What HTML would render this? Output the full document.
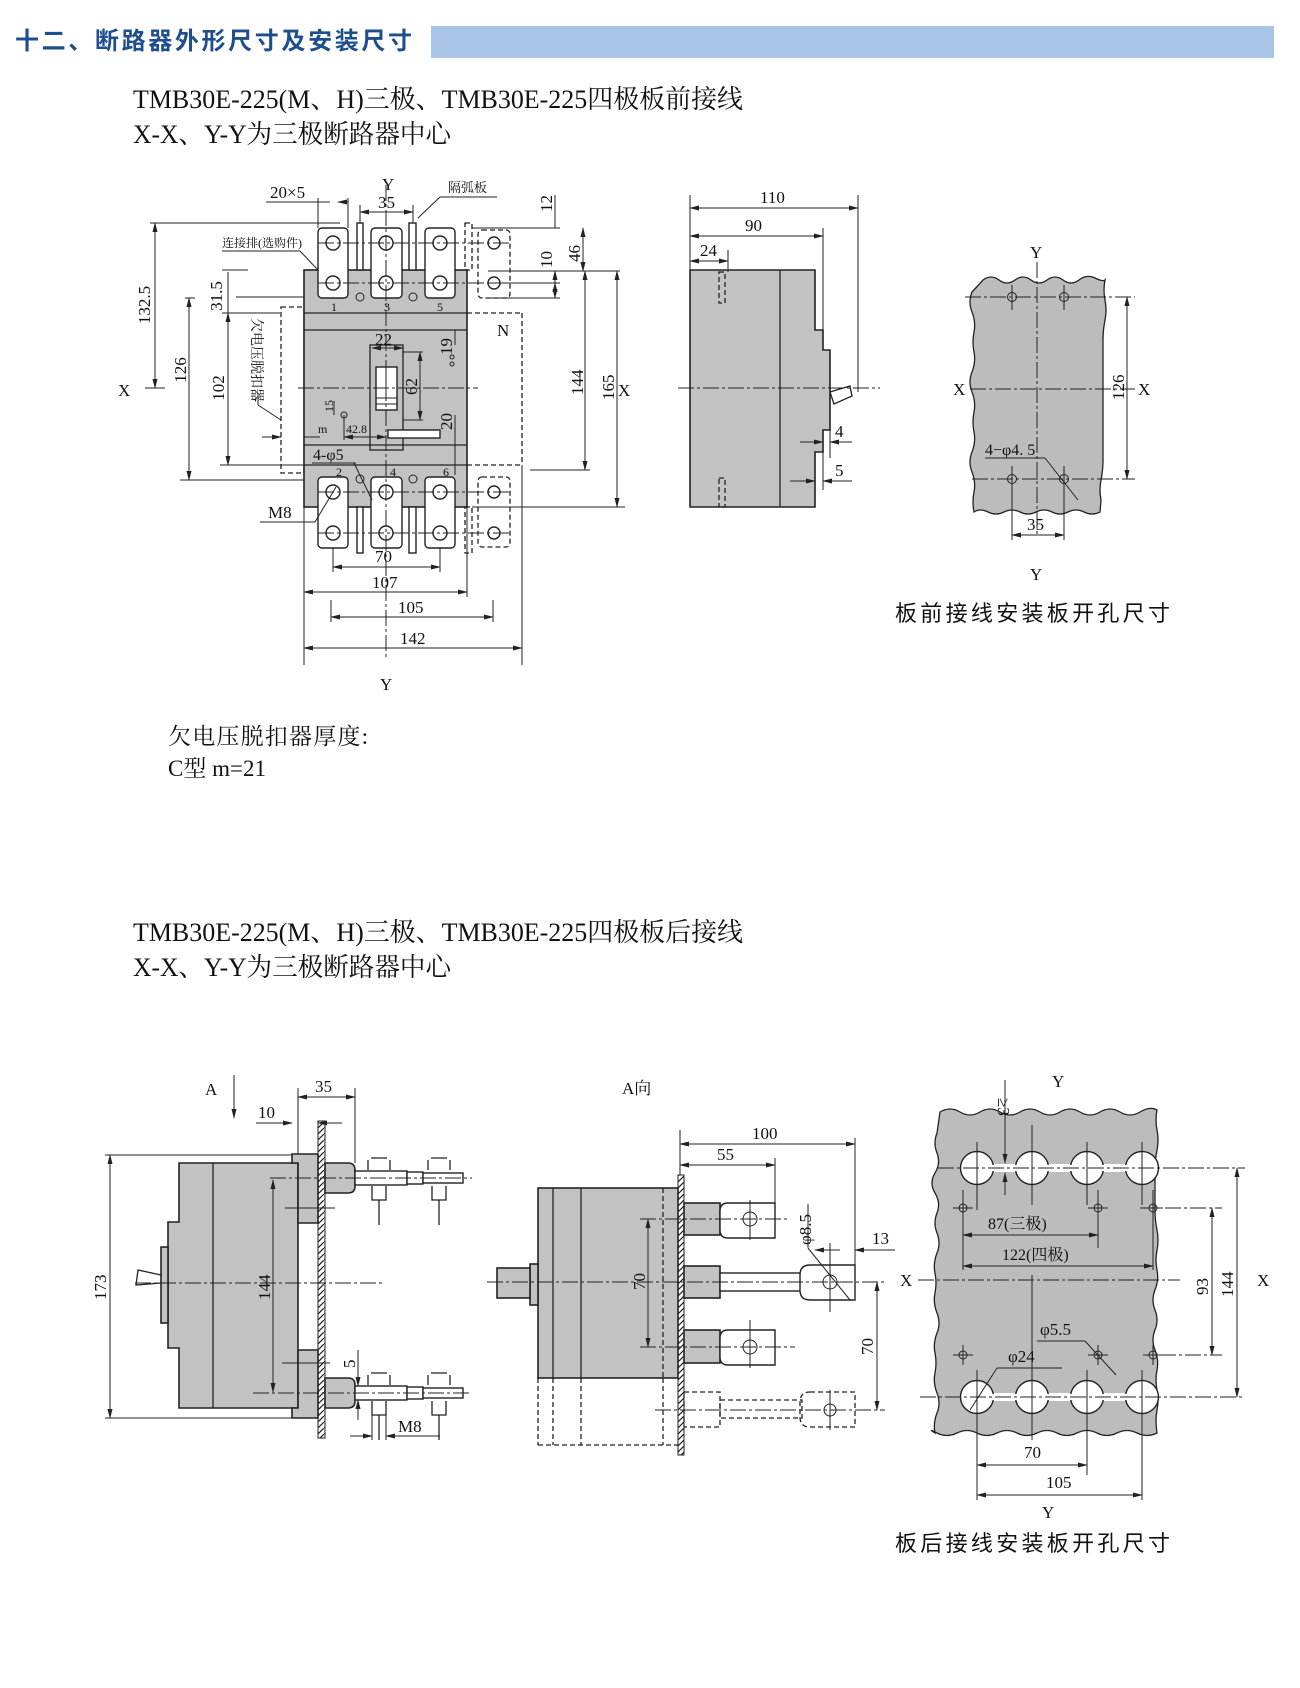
<!DOCTYPE html>
<html><head><meta charset="utf-8"><style>
html,body{margin:0;padding:0;background:#fff;}
svg{display:block;}
.l{stroke:#222;stroke-width:1.3;fill:none}
.t{stroke:#222;stroke-width:1;fill:none}
.g{fill:#c2c2c2;stroke:#222;stroke-width:1.6}
.w{fill:#fff;stroke:#222;stroke-width:1.4}
.d{stroke:#222;stroke-width:1.3;fill:none;stroke-dasharray:5 3}
.c{stroke:#222;stroke-width:1;fill:none;stroke-dasharray:16 3 3 3}
.dim{stroke:#222;stroke-width:1;fill:none;marker-start:url(#a);marker-end:url(#a)}
text{font-family:"Liberation Serif","Noto Serif CJK SC",serif;fill:#111}
.n{font-size:17px}
.s{font-size:12px}
</style></head><body>
<svg width="1300" height="1688" viewBox="0 0 1300 1688" xmlns="http://www.w3.org/2000/svg">
<defs>
<marker id="a" markerWidth="10" markerHeight="6" refX="9" refY="3" orient="auto-start-reverse" markerUnits="userSpaceOnUse"><path d="M0,0.5 L10,3 L0,5.5 z" fill="#222"/></marker>
<pattern id="h" width="6" height="6" patternUnits="userSpaceOnUse"><path d="M0,6 L6,0" stroke="#222" stroke-width="1.2"/></pattern>
</defs>

<!-- header -->
<text x="15" y="49" style="font-family:'Liberation Sans','Noto Sans CJK SC',sans-serif;font-weight:bold;font-size:24px;fill:#1d4f8f" textLength="397">十二、断路器外形尺寸及安装尺寸</text>
<rect x="431" y="26" width="843" height="32" fill="#a8c5e8"/>

<text x="133" y="108" font-size="26" textLength="610" lengthAdjust="spacingAndGlyphs">TMB30E-225(M、H)三极、TMB30E-225四极板前接线</text>
<text x="133" y="143" font-size="26" textLength="318" lengthAdjust="spacingAndGlyphs">X-X、Y-Y为三极断路器中心</text>

<!-- ============ FRONT VIEW ============ -->
<line class="d" x1="467" y1="313" x2="522" y2="313"/><line class="d" x1="522" y1="313" x2="522" y2="465"/><line class="d" x1="467" y1="465" x2="522" y2="465"/>
<rect class="d" x="281" y="307" width="23" height="166"/>
<rect class="g" x="304" y="270" width="163" height="237"/>
<line class="l" x1="304" y1="313" x2="467" y2="313"/><line class="l" x1="304" y1="330" x2="467" y2="330"/>
<line class="l" x1="304" y1="445" x2="467" y2="445"/><line class="l" x1="304" y1="465" x2="467" y2="465"/>
<rect class="l" x="370" y="345" width="33" height="105" fill="#c9c9c9"/>
<rect class="w" x="376" y="367" width="21" height="43"/>
<line class="t" x1="376" y1="398" x2="397" y2="398"/><line class="t" x1="376" y1="404" x2="397" y2="404"/><line class="t" x1="386" y1="367" x2="386" y2="398"/>
<rect class="w" x="388" y="430" width="52" height="8"/>
<g>
<rect class="w" x="318" y="228" width="30" height="70" rx="4"/>
<rect class="w" x="371" y="228" width="31" height="70" rx="4"/>
<rect class="w" x="425" y="228" width="30" height="70" rx="4"/>
<rect class="d" x="478" y="230" width="32" height="68" rx="4"/>
<rect class="w" x="357" y="223" width="6" height="47"/>
<rect class="w" x="409" y="223" width="7" height="47"/>
<rect class="d" x="465" y="223" width="7" height="47"/>
<g class="w"><circle cx="333" cy="243" r="7"/><circle cx="333" cy="283" r="7"/><circle cx="386" cy="243" r="7"/><circle cx="386" cy="283" r="7"/><circle cx="440" cy="243" r="7"/><circle cx="440" cy="283" r="7"/><circle cx="494" cy="243" r="6"/><circle cx="494" cy="283" r="6"/></g>
<rect class="w" x="318" y="477" width="30" height="71" rx="4"/>
<rect class="w" x="371" y="477" width="31" height="71" rx="4"/>
<rect class="w" x="425" y="477" width="30" height="71" rx="4"/>
<rect class="d" x="478" y="477" width="32" height="70" rx="4"/>
<rect class="w" x="357" y="507" width="6" height="46"/>
<rect class="w" x="409" y="507" width="7" height="46"/>
<rect class="d" x="465" y="507" width="7" height="46"/>
<g class="w"><circle cx="333" cy="492" r="7"/><circle cx="333" cy="533" r="7"/><circle cx="386" cy="492" r="7"/><circle cx="386" cy="533" r="7"/><circle cx="440" cy="492" r="7"/><circle cx="440" cy="533" r="7"/><circle cx="494" cy="492" r="6"/><circle cx="494" cy="533" r="6"/></g>
<g class="t"><circle cx="360" cy="297" r="4"/><circle cx="413" cy="297" r="4"/><circle cx="360" cy="479" r="4"/><circle cx="413" cy="479" r="4"/><circle cx="344" cy="415" r="3"/><circle cx="452" cy="357" r="2"/><circle cx="452" cy="364" r="2"/></g>
<g class="s"><text x="331" y="311">1</text><text x="384" y="311">3</text><text x="437" y="311">5</text><text x="336" y="476">2</text><text x="390" y="476">4</text><text x="443" y="476">6</text></g>
</g>
<line class="c" x1="386" y1="185" x2="386" y2="660"/>
<line class="c" x1="298" y1="388" x2="478" y2="388"/>
<line class="c" x1="318" y1="243" x2="510" y2="243"/><line class="c" x1="318" y1="283" x2="510" y2="283"/>
<line class="c" x1="318" y1="492" x2="510" y2="492"/><line class="c" x1="318" y1="533" x2="510" y2="533"/>
<line class="t" x1="150" y1="223" x2="340" y2="223"/>
<line class="dim" x1="155" y1="223" x2="155" y2="388"/><line class="t" x1="145" y1="388" x2="165" y2="388"/>
<text class="n" transform="translate(150,305) rotate(-90)" text-anchor="middle">132.5</text>
<line class="t" x1="185" y1="298" x2="195" y2="298"/><line class="t" x1="180" y1="480" x2="304" y2="480"/>
<line class="dim" x1="189" y1="298" x2="189" y2="480"/>
<text class="n" transform="translate(186,370) rotate(-90)" text-anchor="middle">126</text>
<line class="t" x1="222" y1="270" x2="248" y2="270"/><line class="t" x1="222" y1="313" x2="280" y2="313"/><line class="t" x1="220" y1="465" x2="304" y2="465"/>
<line class="dim" x1="228" y1="313" x2="228" y2="465"/><line class="t" x1="228" y1="272" x2="228" y2="313"/>
<text class="n" transform="translate(224,388) rotate(-90)" text-anchor="middle">102</text>
<text class="n" transform="translate(222,296) rotate(-90)" text-anchor="middle">31.5</text>
<line class="t" x1="236" y1="297" x2="304" y2="297"/>
<text font-size="14" transform="translate(252,318) rotate(90)">欠电压脱扣器</text>
<line class="t" x1="258" y1="395" x2="258" y2="405"/><line class="t" x1="258" y1="405" x2="281" y2="420"/>
<text class="n" x="118" y="396">X</text>
<line class="t" x1="262" y1="437" x2="281" y2="437" marker-end="url(#a)"/><line class="t" x1="304" y1="437" x2="320" y2="437"/>
<text class="s" x="318" y="433">m</text>
<line class="dim" x1="344" y1="437" x2="386" y2="437"/><text class="s" x="346" y="433">42.8</text>
<line class="t" x1="344" y1="415" x2="344" y2="440"/>
<line class="t" x1="334" y1="401" x2="334" y2="415"/><text class="s" transform="translate(333,412) rotate(-90)">15</text>
<text x="313" y="460" font-size="16">4-φ5</text><line class="t" x1="312" y1="463" x2="356" y2="463"/><line class="t" x1="354" y1="463" x2="372" y2="500"/>
<text class="n" x="268" y="518">M8</text><line class="t" x1="260" y1="522" x2="315" y2="522"/><line class="t" x1="315" y1="522" x2="336" y2="487"/>
<text class="n" x="270" y="198">20×5</text><line class="t" x1="266" y1="202" x2="318" y2="202"/>
<line class="t" x1="318" y1="198" x2="318" y2="228"/><line class="t" x1="348" y1="198" x2="348" y2="228"/>
<line class="t" x1="318" y1="202" x2="330" y2="202"/><line class="t" x1="348" y1="202" x2="338" y2="202" marker-end="url(#a)"/>
<text class="n" x="382" y="190">Y</text>
<line class="dim" x1="360" y1="212" x2="413" y2="212"/><text class="n" x="378" y="208">35</text>
<line class="t" x1="360" y1="205" x2="360" y2="223"/><line class="t" x1="413" y1="205" x2="413" y2="223"/>
<text font-size="13" x="448" y="192">隔弧板</text><line class="t" x1="440" y1="197" x2="497" y2="197"/><line class="t" x1="440" y1="197" x2="418" y2="218"/>
<text font-size="12" x="222" y="247">连接排(选购件)</text><line class="t" x1="222" y1="251" x2="300" y2="251"/><line class="t" x1="300" y1="251" x2="318" y2="270"/>
<text class="n" x="497" y="336">N</text>
<line class="dim" x1="372" y1="348" x2="403" y2="348"/><text class="n" x="375" y="345">22</text>
<line class="t" x1="403" y1="352" x2="423" y2="352"/><line class="t" x1="403" y1="420" x2="423" y2="420"/>
<line class="dim" x1="420" y1="352" x2="420" y2="420"/><text class="n" transform="translate(417,395) rotate(-90)">62</text>
<line class="t" x1="455" y1="330" x2="455" y2="345"/><text class="n" transform="translate(452,355) rotate(-90)">19</text>
<line class="t" x1="455" y1="415" x2="455" y2="475"/><text class="n" transform="translate(452,430) rotate(-90)">20</text>
<line class="t" x1="472" y1="228" x2="560" y2="228"/><line class="t" x1="488" y1="271" x2="620" y2="271"/>
<line class="t" x1="488" y1="283" x2="560" y2="283"/><line class="t" x1="488" y1="298" x2="560" y2="298"/>
<line class="t" x1="530" y1="470" x2="590" y2="470"/><line class="t" x1="472" y1="507" x2="625" y2="507"/>
<line class="t" x1="555" y1="195" x2="555" y2="228"/><line class="t" x1="555" y1="271" x2="555" y2="283" marker-start="url(#a)"/>
<text class="n" transform="translate(552,212) rotate(-90)">12</text>
<line class="dim" x1="555" y1="283" x2="555" y2="298"/><text class="n" transform="translate(552,268) rotate(-90)">10</text>
<line class="dim" x1="583" y1="228" x2="583" y2="271"/><text class="n" transform="translate(580,262) rotate(-90)">46</text>
<line class="dim" x1="585" y1="271" x2="585" y2="470"/><text class="n" transform="translate(583,395) rotate(-90)">144</text>
<line class="dim" x1="617" y1="271" x2="617" y2="507"/><text class="n" transform="translate(614,400) rotate(-90)">165</text>
<text class="n" x="618" y="396">X</text>
<line class="t" x1="333" y1="548" x2="333" y2="572"/><line class="t" x1="440" y1="548" x2="440" y2="572"/>
<line class="dim" x1="333" y1="567" x2="440" y2="567"/><text class="n" x="375" y="562">70</text>
<line class="t" x1="304" y1="507" x2="304" y2="665"/><line class="t" x1="467" y1="507" x2="467" y2="597"/>
<line class="dim" x1="304" y1="592" x2="467" y2="592"/><text class="n" x="372" y="588">107</text>
<line class="t" x1="331" y1="600" x2="331" y2="622"/><line class="t" x1="493" y1="600" x2="493" y2="622"/>
<line class="dim" x1="331" y1="617" x2="493" y2="617"/><text class="n" x="398" y="613">105</text>
<line class="t" x1="522" y1="465" x2="522" y2="665"/>
<line class="dim" x1="304" y1="648" x2="522" y2="648"/><text class="n" x="400" y="644">142</text>
<text class="n" x="380" y="690">Y</text>

<!-- ============ SIDE VIEW ============ -->
<path class="g" d="M690,270 H815 V330 H823 V350 H830 V430 H823 V452 H815 V507 H690 Z"/>
<line class="l" x1="780" y1="270" x2="780" y2="507"/>
<rect class="d" x="719" y="272" width="6" height="31"/><rect class="d" x="719" y="478" width="6" height="29"/>
<path class="l" d="M830,392 L850,386 L852,396 L834,404 Z" fill="#fff"/>
<line class="c" x1="678" y1="388" x2="880" y2="388"/>
<line class="t" x1="690" y1="195" x2="690" y2="270"/><line class="t" x1="858" y1="195" x2="858" y2="392"/>
<line class="dim" x1="690" y1="208" x2="858" y2="208"/><text class="n" x="760" y="203">110</text>
<line class="t" x1="823" y1="228" x2="823" y2="330"/>
<line class="dim" x1="690" y1="236" x2="823" y2="236"/><text class="n" x="745" y="231">90</text>
<line class="t" x1="728" y1="250" x2="728" y2="272"/>
<line class="dim" x1="690" y1="261" x2="728" y2="261"/><text class="n" x="700" y="256">24</text>
<line class="t" x1="800" y1="442" x2="823" y2="442" marker-end="url(#a)"/><line class="t" x1="830" y1="442" x2="852" y2="442" marker-start="url(#a)"/>
<line class="t" x1="830" y1="430" x2="830" y2="458"/><text class="n" x="835" y="437">4</text>
<line class="t" x1="790" y1="481" x2="815" y2="481" marker-end="url(#a)"/><line class="t" x1="823" y1="481" x2="852" y2="481" marker-start="url(#a)"/>
<line class="t" x1="823" y1="452" x2="823" y2="490"/><text class="n" x="835" y="476">5</text>

<!-- ============ PLATE 1 ============ -->
<path d="M983,280 q8,-6 16,0 t16,0 t16,0 t16,0 t16,0 t16,0 t16,-2 t10,2 q-2,10 0,20 t0,20 t-2,20 t0,20 t0,20 t0,20 t0,20 t0,20 t0,20 t-2,20 t0,20 l-1,12 q-8,4 -16,0 t-16,0 t-16,0 t-16,0 t-16,0 t-16,0 t-16,0 t-14,0 q-2,-10 0,-20 t-2,-20 t0,-20 t2,-20 t0,-20 t-2,-20 t0,-20 t2,-20 t0,-20 t-2,-20 t0,-20 z" fill="#bcbcbc" stroke="#222" stroke-width="1.3"/>
<g class="t"><circle cx="1012" cy="297" r="4.5" fill="#bcbcbc"/><circle cx="1064" cy="297" r="4.5" fill="#bcbcbc"/><circle cx="1012" cy="479" r="4.5" fill="#bcbcbc"/><circle cx="1064" cy="479" r="4.5" fill="#bcbcbc"/></g>
<line class="c" x1="965" y1="297" x2="1135" y2="297"/><line class="c" x1="972" y1="479" x2="1135" y2="479"/>
<line class="t" x1="1012" y1="285" x2="1012" y2="310"/><line class="t" x1="1064" y1="285" x2="1064" y2="310"/>
<line class="t" x1="1012" y1="466" x2="1012" y2="540"/><line class="t" x1="1064" y1="466" x2="1064" y2="540"/>
<line class="c" x1="1037" y1="262" x2="1037" y2="535"/>
<line class="c" x1="970" y1="389" x2="1135" y2="389"/>
<text class="n" x="1030" y="258">Y</text><text class="n" x="1030" y="580">Y</text>
<text class="n" x="953" y="395">X</text><text class="n" x="1138" y="395">X</text>
<line class="dim" x1="1127" y1="297" x2="1127" y2="479"/><text class="n" transform="translate(1124,400) rotate(-90)">126</text>
<text x="985" y="455" font-size="16">4−φ4. 5</text>
<line class="t" x1="985" y1="458" x2="1045" y2="458"/><line class="t" x1="1045" y1="458" x2="1078" y2="500"/>
<line class="dim" x1="1012" y1="535" x2="1064" y2="535"/><text class="n" x="1027" y="530">35</text>
<text x="895" y="621" style="font-family:'Liberation Sans','Noto Sans CJK SC',sans-serif;font-size:22px" textLength="275">板前接线安装板开孔尺寸</text>

<text x="168" y="744" font-size="23" textLength="200">欠电压脱扣器厚度:</text>
<text x="168" y="776" font-size="23">C型 m=21</text>

<!-- ============ SECTION 2 ============ -->
<text x="133" y="941" font-size="26" textLength="610" lengthAdjust="spacingAndGlyphs">TMB30E-225(M、H)三极、TMB30E-225四极板后接线</text>
<text x="133" y="976" font-size="26" textLength="318" lengthAdjust="spacingAndGlyphs">X-X、Y-Y为三极断路器中心</text>

<path class="g" d="M179,1163 H298 V1408 H179 V1348 H168 V1222 H179 Z"/>
<rect class="g" x="161" y="1247" width="7" height="76"/>
<path class="l" d="M161,1275 L138,1270 L136,1285 L161,1283" fill="#fff"/>
<line class="l" x1="213" y1="1163" x2="213" y2="1408"/>
<path class="g" d="M292,1154 H318 V1223 H298 V1163 H292 Z"/>
<path class="g" d="M298,1350 H318 V1418 H292 V1408 H298 Z"/>
<rect x="318" y="1121" width="7" height="317" fill="url(#h)" stroke="#222" stroke-width="1"/>
<path class="g" d="M325,1163 H348 Q355,1163 355,1170 V1186 Q355,1193 348,1193 H325 Z"/>
<path class="g" d="M325,1378 H348 Q355,1378 355,1385 V1401 Q355,1408 348,1408 H325 Z"/>
<g class="w"><rect x="355" y="1171" width="52" height="14"/><rect x="407" y="1172" width="16" height="12"/><rect x="423" y="1173" width="40" height="10"/>
<rect x="355" y="1386" width="52" height="14"/><rect x="407" y="1387" width="16" height="12"/><rect x="423" y="1388" width="40" height="10"/></g>
<g class="l">
<path d="M368,1160 v10 M390,1160 v10 M371,1158 h16 M372,1186 v14 h14 v-14 M379,1200 v25"/>
<path d="M428,1160 v10 M450,1160 v10 M431,1158 h16 M432,1186 v14 h14 v-14 M439,1200 v25"/>
<path d="M368,1375 v10 M390,1375 v10 M371,1373 h16 M372,1401 v14 h14 v-14 M379,1415 v25"/>
<path d="M428,1375 v10 M450,1375 v10 M431,1373 h16 M432,1401 v14 h14 v-14 M439,1415 v25"/>
</g>
<line class="c" x1="135" y1="1283" x2="385" y2="1283"/>
<line class="c" x1="270" y1="1178" x2="472" y2="1178"/><line class="c" x1="253" y1="1393" x2="472" y2="1393"/>
<line class="t" x1="285" y1="1208" x2="335" y2="1208"/><line class="t" x1="282" y1="1363" x2="330" y2="1363"/>
<line class="t" x1="105" y1="1155" x2="292" y2="1155"/><line class="t" x1="105" y1="1418" x2="292" y2="1418"/>
<line class="dim" x1="110" y1="1155" x2="110" y2="1418"/><text class="n" transform="translate(106,1300) rotate(-90)">173</text>
<line class="dim" x1="273" y1="1180" x2="273" y2="1392"/><text class="n" transform="translate(270,1300) rotate(-90)">144</text>
<text class="n" x="205" y="1095">A</text><line class="t" x1="234" y1="1075" x2="234" y2="1118" marker-end="url(#a)"/>
<line class="t" x1="298" y1="1088" x2="298" y2="1154"/><line class="t" x1="355" y1="1088" x2="355" y2="1163"/>
<line class="dim" x1="298" y1="1097" x2="355" y2="1097"/><text class="n" x="315" y="1092">35</text>
<line class="t" x1="256" y1="1123" x2="292" y2="1123" marker-end="url(#a)"/><line class="t" x1="318" y1="1123" x2="342" y2="1123" marker-start="url(#a)"/>
<text class="n" x="258" y="1118">10</text>
<line class="t" x1="358" y1="1350" x2="358" y2="1386" marker-end="url(#a)"/><line class="t" x1="358" y1="1400" x2="358" y2="1420" marker-start="url(#a)"/>
<text class="n" transform="translate(355,1368) rotate(-90)">5</text>
<line class="t" x1="372" y1="1410" x2="372" y2="1440"/><line class="t" x1="386" y1="1410" x2="386" y2="1440"/>
<line class="t" x1="350" y1="1436" x2="372" y2="1436" marker-end="url(#a)"/><line class="t" x1="386" y1="1436" x2="440" y2="1436" marker-start="url(#a)"/>
<text class="n" x="398" y="1432">M8</text>

<text class="n" x="622" y="1094">A向</text>
<g class="d"><line x1="538" y1="1378" x2="538" y2="1445"/><line x1="553" y1="1378" x2="553" y2="1445"/><line x1="581" y1="1378" x2="581" y2="1445"/><line x1="663" y1="1378" x2="663" y2="1445"/><line x1="538" y1="1445" x2="678" y2="1445"/></g>
<rect class="g" x="538" y="1188" width="140" height="190"/>
<line class="l" x1="553" y1="1188" x2="553" y2="1378"/><line class="l" x1="581" y1="1188" x2="581" y2="1378"/>
<line class="d" x1="663" y1="1188" x2="663" y2="1378"/>
<rect class="g" x="530" y="1264" width="8" height="41"/>
<rect class="g" x="497" y="1268" width="33" height="30"/>
<rect x="678" y="1175" width="6" height="280" fill="url(#h)" stroke="#222" stroke-width="1"/>
<rect class="g" x="684" y="1203" width="36" height="32"/>
<rect class="g" x="684" y="1266" width="36" height="32"/>
<rect class="g" x="684" y="1330" width="36" height="33"/>
<path class="w" d="M728,1203 H775 V1238 H728 Q720,1238 720,1230 V1211 Q720,1203 728,1203 Z"/>
<path class="w" d="M728,1330 H775 V1365 H728 Q720,1365 720,1357 V1338 Q720,1330 728,1330 Z"/>
<rect class="w" x="720" y="1273" width="85" height="18"/>
<path class="w" d="M810,1265 H855 V1300 H810 Q800,1300 800,1290 V1275 Q800,1265 810,1265 Z"/>
<g class="d"><rect x="684" y="1392" width="36" height="35"/><rect x="720" y="1400" width="82" height="18"/><path d="M810,1392 H855 V1427 H810 Q800,1427 800,1417 V1402 Q800,1392 810,1392 Z"/></g>
<g class="t"><circle cx="750" cy="1219" r="7"/><circle cx="750" cy="1347" r="7"/><circle cx="830" cy="1282" r="7"/><circle cx="830" cy="1410" r="6"/></g>
<line class="c" x1="487" y1="1282" x2="885" y2="1282"/>
<line class="c" x1="640" y1="1219" x2="790" y2="1219"/><line class="c" x1="640" y1="1347" x2="795" y2="1347"/>
<line class="c" x1="655" y1="1410" x2="885" y2="1410"/>
<g class="t"><line x1="750" y1="1200" x2="750" y2="1240"/><line x1="750" y1="1320" x2="750" y2="1368"/><line x1="830" y1="1243" x2="830" y2="1312"/><line x1="830" y1="1390" x2="830" y2="1430"/></g>
<line class="t" x1="680" y1="1130" x2="680" y2="1175"/><line class="t" x1="855" y1="1138" x2="855" y2="1265"/><line class="t" x1="775" y1="1158" x2="775" y2="1203"/>
<line class="dim" x1="680" y1="1144" x2="855" y2="1144"/><text class="n" x="752" y="1139">100</text>
<line class="dim" x1="680" y1="1165" x2="775" y2="1165"/><text class="n" x="717" y="1160">55</text>
<line class="dim" x1="648" y1="1219" x2="648" y2="1347"/><text class="n" transform="translate(645,1290) rotate(-90)">70</text>
<line class="dim" x1="877" y1="1282" x2="877" y2="1410"/><text class="n" transform="translate(873,1355) rotate(-90)">70</text>
<text class="n" transform="translate(811,1245) rotate(-90)">φ8.5</text>
<line class="t" x1="808" y1="1204" x2="808" y2="1248"/><line class="t" x1="808" y1="1248" x2="850" y2="1300"/>
<line class="t" x1="815" y1="1250" x2="840" y2="1250" marker-start="url(#a)"/><line class="t" x1="855" y1="1250" x2="895" y2="1250" marker-start="url(#a)"/>
<text class="n" x="872" y="1244">13</text>

<path d="M940,1112 q10,-6 20,0 t20,0 t20,0 t20,0 t20,0 t20,0 t20,0 t20,0 t20,0 t20,0 t17,-2 q-2,10 0,20 t0,20 t-2,20 t0,20 t0,20 t2,20 t0,20 t0,20 t-2,20 t0,20 t0,20 t0,20 t2,20 t0,20 t0,20 t0,23 q-10,5 -20,0 t-20,0 t-20,0 t-20,0 t-20,0 t-20,0 t-20,0 t-20,0 t-20,0 t-20,0 t-20,0 t-2,0 q-2,-10 2,-20 t0,-20 t-2,-20 t0,-20 t2,-20 t0,-20 t-2,-20 t0,-20 t2,-20 t0,-20 t0,-20 t-2,-20 t0,-20 t2,-20 t0,-20 z" fill="#bcbcbc" stroke="#222" stroke-width="1.3"/>
<g fill="#fff" stroke="none"><rect x="977" y="1164" width="165" height="8"/><rect x="977" y="1393" width="165" height="8"/></g>
<g class="w"><circle cx="977" cy="1168" r="16.5"/><circle cx="1032" cy="1168" r="16.5"/><circle cx="1087" cy="1168" r="16.5"/><circle cx="1142" cy="1168" r="16.5"/>
<circle cx="977" cy="1397" r="16.5"/><circle cx="1032" cy="1397" r="16.5"/><circle cx="1087" cy="1397" r="16.5"/><circle cx="1142" cy="1397" r="16.5"/></g>
<g fill="#fff" stroke="none"><rect x="990" y="1165" width="30" height="6"/><rect x="1045" y="1165" width="30" height="6"/><rect x="1100" y="1165" width="30" height="6"/><rect x="990" y="1394" width="30" height="6"/><rect x="1045" y="1394" width="30" height="6"/><rect x="1100" y="1394" width="30" height="6"/></g>
<g class="t"><circle cx="963" cy="1208" r="4"/><circle cx="1098" cy="1208" r="4"/><circle cx="1153" cy="1208" r="4"/><circle cx="963" cy="1355" r="4"/><circle cx="1098" cy="1355" r="4"/><circle cx="1153" cy="1355" r="4"/>
<path d="M953,1208 h20 M1088,1208 h20 M1143,1208 h20 M953,1355 h20 M1088,1355 h20 M1143,1355 h20 M963,1345 v20 M1098,1345 v20 M1153,1345 v20"/></g>
<line class="c" x1="938" y1="1168" x2="1245" y2="1168"/><line class="c" x1="920" y1="1397" x2="1245" y2="1397"/>
<line class="c" x1="1140" y1="1208" x2="1222" y2="1208"/><line class="c" x1="1160" y1="1355" x2="1222" y2="1355"/>
<line class="c" x1="918" y1="1280" x2="1180" y2="1280"/>
<g class="t"><line x1="977" y1="1142" x2="977" y2="1210"/><line x1="1032" y1="1125" x2="1032" y2="1205"/><line x1="1087" y1="1142" x2="1087" y2="1205"/><line x1="1142" y1="1142" x2="1142" y2="1205"/>
<line x1="963" y1="1190" x2="963" y2="1270"/><line x1="1098" y1="1190" x2="1098" y2="1248"/><line x1="1153" y1="1190" x2="1153" y2="1270"/>
<line x1="1032" y1="1275" x2="1032" y2="1440"/><line x1="977" y1="1370" x2="977" y2="1500"/><line x1="1087" y1="1370" x2="1087" y2="1475"/><line x1="1142" y1="1370" x2="1142" y2="1500"/></g>
<line class="t" x1="1005" y1="1080" x2="1005" y2="1163" marker-end="url(#a)"/><line class="t" x1="1005" y1="1173" x2="1005" y2="1195" marker-start="url(#a)"/>
<text class="n" transform="translate(998,1098) rotate(90)">≥3</text>
<text class="n" x="1052" y="1087">Y</text>
<line class="dim" x1="963" y1="1235" x2="1098" y2="1235"/><text font-size="16" x="988" y="1229">87(三极)</text>
<line class="dim" x1="963" y1="1266" x2="1153" y2="1266"/><text font-size="16" x="1002" y="1260">122(四极)</text>
<text class="n" x="900" y="1286">X</text><text class="n" x="1257" y="1286">X</text>
<line class="dim" x1="1212" y1="1208" x2="1212" y2="1355"/><text class="n" transform="translate(1208,1295) rotate(-90)">93</text>
<line class="dim" x1="1237" y1="1168" x2="1237" y2="1397"/><text class="n" transform="translate(1233,1297) rotate(-90)">144</text>
<text class="n" x="1040" y="1335">φ5.5</text><line class="t" x1="1037" y1="1341" x2="1085" y2="1341"/><line class="t" x1="1085" y1="1341" x2="1116" y2="1375"/>
<text class="n" x="1008" y="1362">φ24</text><line class="t" x1="997" y1="1368" x2="1062" y2="1368"/><line class="t" x1="997" y1="1368" x2="970" y2="1410"/>
<line class="dim" x1="977" y1="1465" x2="1087" y2="1465"/><text class="n" x="1024" y="1458">70</text>
<line class="dim" x1="977" y1="1495" x2="1142" y2="1495"/><text class="n" x="1046" y="1488">105</text>
<text class="n" x="1042" y="1518">Y</text>
<text x="895" y="1551" style="font-family:'Liberation Sans','Noto Sans CJK SC',sans-serif;font-size:22px" textLength="275">板后接线安装板开孔尺寸</text>
</svg>
</body></html>
